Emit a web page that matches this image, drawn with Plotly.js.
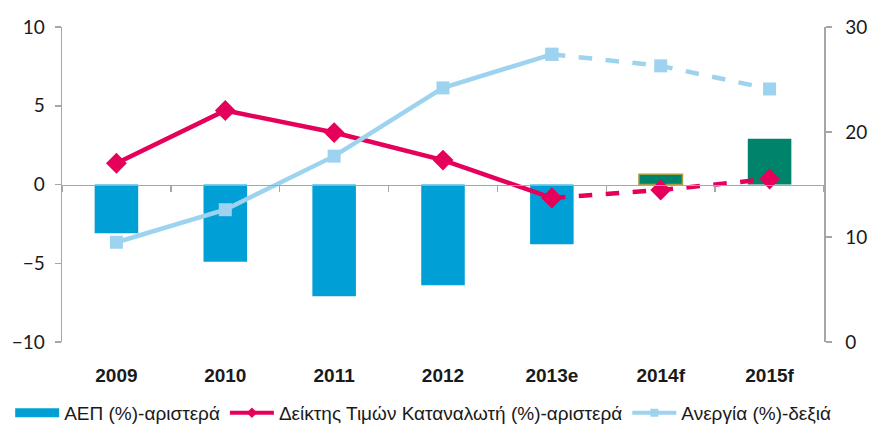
<!DOCTYPE html>
<html><head><meta charset="utf-8">
<script src="https://cdn.plot.ly/plotly-3.0.1.min.js"></script>
<style>body{margin:0;padding:0;background:#fff}#chart{width:885px;height:428px}</style>
</head><body><div id="chart"></div>
<script>
const years = ['2009','2010','2011','2012','2013e','2014f','2015f'];
const gdp = [-3.1, -4.9, -7.1, -6.4, -3.8, 0.65, 2.9];
const cpi = [1.35, 4.7, 3.3, 1.55, -0.85, -0.35, 0.35];
const unemp = [9.5, 12.6, 17.7, 24.2, 27.4, 26.3, 24.1];
const gdpColors = ['#00A0D6','#00A0D6','#00A0D6','#00A0D6','#00A0D6','#00836B','#00836B'];
const gdpLineW = [0,0,0,0,0,1.5,0];
const splitIdx = 4; // from 2013e on: forecast (dashed)

const names = ['ΑΕΠ (%)-αριστερά','Δείκτης Τιμών Καταναλωτή (%)-αριστερά','Ανεργία (%)-δεξιά'];
const blue = '#00A0D6', red = '#E5005A', lblue = '#9DD3EF';

const traces = [
  {type:'bar', x:years, y:gdp, name:names[0], width:0.4, showlegend:false,
   marker:{color:gdpColors, line:{color:'#A3A04A', width:gdpLineW}}, xaxis:'x', yaxis:'y'},
  {type:'scatter', mode:'lines+markers', x:years.slice(0,splitIdx+1), y:cpi.slice(0,splitIdx+1), showlegend:false,
   line:{color:red,width:4.5}, marker:{symbol:'diamond',size:16,color:red}, xaxis:'x', yaxis:'y'},
  {type:'scatter', mode:'lines+markers', x:years.slice(splitIdx), y:cpi.slice(splitIdx), showlegend:false,
   line:{color:red,width:4.5,dash:'dash'}, marker:{symbol:'diamond',size:16,color:red}, xaxis:'x', yaxis:'y'},
  {type:'scatter', mode:'lines+markers', x:years.slice(0,splitIdx+1), y:unemp.slice(0,splitIdx+1), showlegend:false,
   line:{color:lblue,width:4.5}, marker:{symbol:'square',size:13,color:lblue}, xaxis:'x2', yaxis:'y2'},
  {type:'scatter', mode:'lines+markers', x:years.slice(splitIdx), y:unemp.slice(splitIdx), showlegend:false,
   line:{color:lblue,width:4.5,dash:'dash'}, marker:{symbol:'square',size:13,color:lblue}, xaxis:'x2', yaxis:'y2'},
  // legend entries
  {type:'scatter', mode:'lines', x:[null], y:[null], name:names[0], line:{color:blue,width:9}, xaxis:'x', yaxis:'y'},
  {type:'scatter', mode:'lines+markers', x:[null], y:[null], name:names[1], line:{color:red,width:4},
   marker:{symbol:'diamond',size:8,color:red}, xaxis:'x', yaxis:'y'},
  {type:'scatter', mode:'lines+markers', x:[null], y:[null], name:names[2], line:{color:lblue,width:4},
   marker:{symbol:'square',size:8,color:lblue}, xaxis:'x', yaxis:'y'}
];

const axisGray = '#A6A6A6';
const tickFont = {family:'Lato, "Open Sans", sans-serif', size:19, color:'#1a1a1a'};
const layout = {
  width:885, height:428,
  margin:{l:62, r:61, t:27, b:86, autoexpand:false},
  paper_bgcolor:'#fff', plot_bgcolor:'#fff',
  showlegend:true,
  legend:{orientation:'h', x:-0.068, xanchor:'left', y:-0.225, yanchor:'middle', itemwidth:44,
    font:{family:'"Liberation Sans", Arial, sans-serif', size:19, color:'#1a1a1a'}, tracegroupgap:0},
  bargap:0.6,
  xaxis:{type:'category', categoryarray:years, range:[-0.5,6.5], showline:false, ticks:'', showgrid:false,
    zeroline:false, tickfont:{family:'"Liberation Sans", Arial, sans-serif', size:19, color:'#1a1a1a', weight:'bold'},
    ticklabelstandoff:20},
  xaxis2:{type:'category', categoryarray:years, range:[-0.5,6.5], overlaying:'x', anchor:'free', position:0.5,
    matches:'x', showline:true, linecolor:axisGray, linewidth:1.5, ticks:'outside', tickson:'boundaries',
    ticklen:6, tickcolor:axisGray, tickwidth:1.5, showticklabels:false, showgrid:false, zeroline:false},
  yaxis:{range:[-10,10], dtick:5, showline:true, linecolor:axisGray, linewidth:1.5, ticks:'outside', ticklen:6,
    tickcolor:axisGray, tickwidth:1.5, showgrid:false, zeroline:false, tickfont:tickFont, ticklabelstandoff:6},
  yaxis2:{range:[0,30], dtick:10, overlaying:'y', side:'right', anchor:'x2', showline:true, linecolor:axisGray,
    linewidth:1.5, ticks:'outside', ticklen:6, tickcolor:axisGray, tickwidth:1.5, showgrid:false, zeroline:false,
    tickfont:tickFont, ticklabelstandoff:10}
};
Plotly.newPlot('chart', traces, layout, {displayModeBar:false, staticPlot:true});
</script></body></html>
